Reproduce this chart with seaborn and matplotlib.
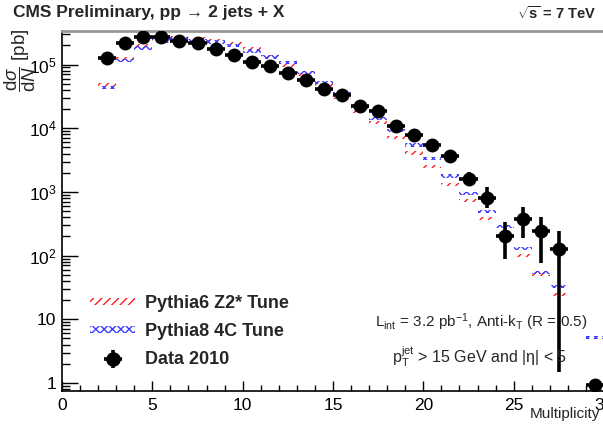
import numpy as np
import pandas as pd
import seaborn as sns
import matplotlib.pyplot as plt
from matplotlib.patches import Patch
from matplotlib.ticker import FixedLocator, NullFormatter

# ==========================================
# DATA
# ==========================================
bin_centers = [2.5, 3.5, 4.5, 5.5, 6.5, 7.5, 8.5, 9.5, 10.5, 11.5, 12.5, 13.5,
               14.5, 15.5, 16.5, 17.5, 18.5, 19.5, 20.5, 21.5, 22.5, 23.5,
               24.5, 25.5, 26.5, 27.5, 29.5]

data_2010 = [1.25e5, 2.19e5, 2.72e5, 2.69e5, 2.38e5, 2.14e5, 1.78e5, 1.43e5,
             1.11e5, 9.4e4, 7.4e4, 5.8e4, 4.15e4, 3.37e4, 2.27e4, 1.85e4,
             1.07e4, 7.9e3, 5.5e3, 3.7e3, 1.57e3, 807, 202, 378, 242, 128, 0.93]
data_err_lo = [0, 0, 0, 0, 0, 0, 0, 0, 0, 0, 0, 0, 0, 0, 0, 0, 0, 0, 0, 150,
               330, 240, 115, 190, 165, 126.5, 0.15]
data_err_hi = [0, 0, 0, 0, 0, 0, 0, 0, 0, 0, 0, 0, 0, 0, 0, 0, 0, 0, 0, 150,
               500, 370, 130, 210, 160, 112, 0.2]

pythia6_z2 = [4.85e4, 1.24e5, 1.95e5, 2.45e5, 2.65e5, 2.56e5, 2.38e5, 2.14e5,
              1.75e5, 1.33e5, 9.6e4, 6.97e4, 4.77e4, 3.1e4, 1.83e4, 1.23e4,
              7.1e3, 4.07e3, 2.5e3, 1.31e3, 733, 382, 222, 100, 51, 24.5, 5.2]
pythia8_4c = [4.36e4, 1.16e5, 1.81e5, 2.35e5, 2.5e5, 2.4e5, 2.25e5, 1.99e5,
              1.63e5, 1.3e5, 1.07e5, 7.5e4, 5.2e4, 3.5e4, 2.11e4, 1.42e4,
              9.2e3, 5.5e3, 3.34e3, 1.78e3, 944, 492, 286, 129, 54, 32.7, 5.2]

x_ticks = [0, 5, 10, 15, 20, 25, 30]
y_ticks = [1, 10, 1e2, 1e3, 1e4, 1e5]
y_tick_labels = ["1", "10", "$10^{2}$", "$10^{3}$", "$10^{4}$", "$10^{5}$"]

LABEL_P6 = "Pythia6 Z2* Tune"
LABEL_P8 = "Pythia8 4C Tune"
LABEL_DATA = "Data 2010"
# ==========================================


def draw_mc_band(ax, df, col, color, hatch):
    # hatched boxes spanning the bin width, a few percent tall (log scale)
    half = 10 ** 0.028
    ax.bar(df["mult"], df[col] * half - df[col] / half, width=1.0,
           bottom=df[col] / half, facecolor="none", edgecolor=color,
           hatch=hatch, linewidth=0, zorder=2)


def make_plot():
    df = pd.DataFrame({
        "mult": bin_centers,
        "data": data_2010,
        "lo": data_err_lo,
        "hi": data_err_hi,
        "p6": pythia6_z2,
        "p8": pythia8_4c,
    })

    sns.set_theme(style="ticks")
    plt.rcParams["font.family"] = ["Liberation Sans", "DejaVu Sans"]
    plt.rcParams["mathtext.fontset"] = "custom"
    plt.rcParams["mathtext.rm"] = "Liberation Sans"
    plt.rcParams["mathtext.it"] = "Liberation Sans:italic"
    plt.rcParams["mathtext.bf"] = "Liberation Sans:bold"
    plt.rcParams["hatch.linewidth"] = 1.0

    fig = plt.figure(figsize=(6.03, 4.26), dpi=100)
    ax = fig.add_axes([62 / 603, 35 / 426, 542 / 603, 360 / 426])

    draw_mc_band(ax, df, "p6", "#ff1a1a", "////")
    draw_mc_band(ax, df, "p8", "#3b3bff", "xxxx")

    ax.errorbar(df["mult"], df["data"], xerr=0.5, yerr=[df["lo"], df["hi"]],
                fmt="none", ecolor="black", elinewidth=2.6, capsize=0, zorder=3)
    sns.scatterplot(data=df, x="mult", y="data", ax=ax, color="black",
                    s=100, edgecolor="black", linewidth=0, zorder=4, legend=False)

    ax.set_yscale("log")
    ax.set_xlim(0, 30)
    ax.set_ylim(0.748, 3.36e5)

    ax.set_xticks(x_ticks)
    ax.xaxis.set_minor_locator(FixedLocator(np.arange(0, 31, 1)))
    ax.set_yticks(y_ticks)
    ax.set_yticklabels(y_tick_labels)
    y_minor = [m * 10.0 ** d for d in range(-1, 6) for m in range(2, 10)]
    ax.yaxis.set_minor_locator(FixedLocator(y_minor))
    ax.yaxis.set_minor_formatter(NullFormatter())
    ax.xaxis.set_minor_formatter(NullFormatter())
    ax.tick_params(axis="both", which="both", direction="in", labelsize=12.5,
                   colors="black")
    ax.tick_params(axis="x", which="major", length=7.5, width=1, pad=5)
    ax.tick_params(axis="x", which="minor", length=4, width=1, bottom=True)
    ax.tick_params(axis="y", which="major", length=11.5, width=1, pad=4)
    ax.tick_params(axis="y", which="minor", length=6, width=1, left=True)
    ax.set_xlabel("")
    ax.set_ylabel("")

    for side in ["left", "bottom"]:
        ax.spines[side].set_color("black")
        ax.spines[side].set_linewidth(1.2)
    ax.spines["top"].set_color("#999999")
    ax.spines["top"].set_linewidth(2)
    ax.spines["right"].set_visible(False)

    # Legend
    handles = [
        Patch(facecolor="none", edgecolor="#ff1a1a", hatch="////", linewidth=0),
        Patch(facecolor="none", edgecolor="#3b3bff", hatch="xxxx", linewidth=0),
        ax.errorbar([], [], xerr=[], yerr=[], fmt="o", color="black", ms=9.5,
                    elinewidth=2.6, capsize=0),
    ]
    ax.legend(handles, [LABEL_P6, LABEL_P8, LABEL_DATA], frameon=False,
              loc="upper left", bbox_to_anchor=(74 / 603, 1 - 279 / 426),
              bbox_transform=fig.transFigure, handlelength=2.5,
              handleheight=0.25, handletextpad=0.55, labelspacing=0.6,
              prop={"size": 13, "weight": "bold"})

    # Texts
    fig.text(13 / 603, 1 - 13 / 426, "CMS Preliminary, pp → 2 jets + X",
             fontsize=12.5, fontweight="bold", va="center", ha="left")
    fig.text(597 / 603, 1 - 13 / 426, r"$\sqrt{\mathbf{s}}$ = 7 TeV",
             fontsize=10.5, fontweight="bold", va="center", ha="right")
    fig.text(481 / 603, 1 - 322 / 426,
             r"L$_{\rm int}$ = 3.2 pb$^{-1}$, Anti-k$_{\rm T}$ (R = 0.5)",
             fontsize=11, va="center", ha="center")
    fig.text(480 / 603, 1 - 357 / 426,
             r"p$_{\rm T}^{\rm jet}$ > 15 GeV and |η| < 5",
             fontsize=11.5, va="center", ha="center")
    fig.text(600 / 603, 1 - 414 / 426, "Multiplicity", fontsize=11,
             va="center", ha="right")
    fig.text(20 / 603, 1 - 29 / 426,
             r"$\dfrac{\mathrm{d}\sigma}{\mathrm{d}N}$ [pb]",
             fontsize=13.5, rotation=90, va="top", ha="center")

    fig.savefig("out.png", dpi=100)


if __name__ == "__main__":
    make_plot()
